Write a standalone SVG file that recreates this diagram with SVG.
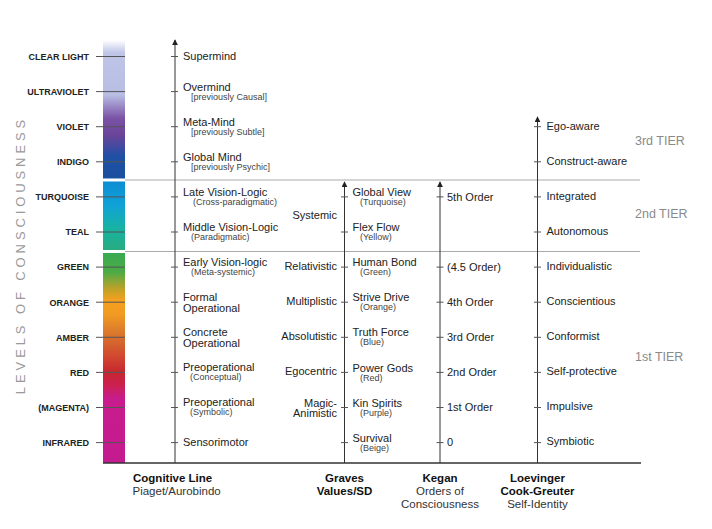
<svg xmlns="http://www.w3.org/2000/svg" width="712" height="529" viewBox="0 0 712 529">
<defs>
<linearGradient id="spec" gradientUnits="userSpaceOnUse" x1="0" y1="40" x2="0" y2="463">
<stop offset="0" stop-color="#ffffff"/>
<stop offset="0.03" stop-color="#bfc5e7"/>
<stop offset="0.13" stop-color="#b8bde3"/>
<stop offset="0.185" stop-color="#7a52a6"/>
<stop offset="0.225" stop-color="#6a449a"/>
<stop offset="0.275" stop-color="#1f50a5"/>
<stop offset="0.326" stop-color="#1a4f9e"/>
<stop offset="0.336" stop-color="#0d8ed3"/>
<stop offset="0.39" stop-color="#10a2d8"/>
<stop offset="0.444" stop-color="#17b3a3"/>
<stop offset="0.496" stop-color="#28ac80"/>
<stop offset="0.504" stop-color="#38aa52"/>
<stop offset="0.549" stop-color="#4dab45"/>
<stop offset="0.586" stop-color="#b8a22a"/>
<stop offset="0.615" stop-color="#f6a11f"/>
<stop offset="0.65" stop-color="#f09a22"/>
<stop offset="0.697" stop-color="#d8742e"/>
<stop offset="0.757" stop-color="#cf4030"/>
<stop offset="0.785" stop-color="#c5282e"/>
<stop offset="0.816" stop-color="#cc2050"/>
<stop offset="0.846" stop-color="#c81c8c"/>
<stop offset="1" stop-color="#c41b90"/>
</linearGradient>
<marker id="arr" viewBox="0 0 8 8" refX="7" refY="4" markerWidth="6" markerHeight="6" markerUnits="userSpaceOnUse" orient="auto">
<path d="M0,0 L8,4 L0,8 Z" fill="#222"/>
</marker>
</defs>
<style>
text{font-family:"Liberation Sans",Arial,sans-serif;}
.lv{font-size:9px;font-weight:bold;fill:#222;text-anchor:end;}
.m{font-size:11px;fill:#222;}
.s{font-size:9px;fill:#444;}
.r{font-size:11px;fill:#222;text-anchor:end;}
.tier{font-size:12.5px;fill:#8a8a8a;}
.hb{font-size:11.5px;font-weight:bold;fill:#111;}
.hn{font-size:11.5px;fill:#333;}
.c{text-anchor:middle;}
.tk{stroke:#555;stroke-width:1;}
.ax{stroke:#333;stroke-width:1;fill:none;}
.tl{stroke:#aaa;stroke-width:1;}
</style>
<rect width="712" height="529" fill="#ffffff"/>

<g id="spectrum">
<rect x="103" y="40" width="22" height="423" fill="url(#spec)"/>
<rect x="103" y="178.5" width="22" height="3" fill="#ffffff"/>
<rect x="103" y="250" width="22" height="3" fill="#ffffff"/>
</g>

<g id="axis-title">
<text transform="translate(25,255) rotate(-90)" text-anchor="middle" font-size="13" fill="#999" letter-spacing="3.9">LEVELS OF CONSCIOUSNESS</text>
</g>

<g id="connectors">
<line class="tl" x1="125" y1="180" x2="640" y2="180"/>
<line class="tl" x1="125" y1="251.5" x2="640" y2="251.5"/>
<line x1="103" y1="463" x2="641" y2="463" stroke="#333" stroke-width="1.6"/>
<line class="ax" x1="175" y1="463" x2="175" y2="40" marker-end="url(#arr)"/>
<line class="ax" x1="344.5" y1="463" x2="344.5" y2="182" marker-end="url(#arr)"/>
<line class="ax" x1="440" y1="463" x2="440" y2="182" marker-end="url(#arr)"/>
<line class="ax" x1="537.5" y1="463" x2="537.5" y2="117" marker-end="url(#arr)"/>
<g id="level-ticks" class="tk">
<line x1="96" y1="56.5" x2="125" y2="56.5"/>
<line x1="96" y1="91.6" x2="125" y2="91.6"/>
<line x1="96" y1="126.7" x2="125" y2="126.7"/>
<line x1="96" y1="161.8" x2="125" y2="161.8"/>
<line x1="96" y1="196.9" x2="125" y2="196.9"/>
<line x1="96" y1="232" x2="125" y2="232"/>
<line x1="96" y1="267.1" x2="125" y2="267.1"/>
<line x1="96" y1="302.2" x2="125" y2="302.2"/>
<line x1="96" y1="337.3" x2="125" y2="337.3"/>
<line x1="96" y1="372.4" x2="125" y2="372.4"/>
<line x1="96" y1="407.5" x2="125" y2="407.5"/>
<line x1="96" y1="442.6" x2="125" y2="442.6"/>
</g>
<g id="cog-ticks" class="tk">
<line x1="171" y1="56.5" x2="178" y2="56.5"/>
<line x1="171" y1="91.6" x2="178" y2="91.6"/>
<line x1="171" y1="126.7" x2="178" y2="126.7"/>
<line x1="171" y1="161.8" x2="178" y2="161.8"/>
<line x1="171" y1="196.9" x2="178" y2="196.9"/>
<line x1="171" y1="232" x2="178" y2="232"/>
<line x1="171" y1="267.1" x2="178" y2="267.1"/>
<line x1="171" y1="302.2" x2="178" y2="302.2"/>
<line x1="171" y1="337.3" x2="178" y2="337.3"/>
<line x1="171" y1="372.4" x2="178" y2="372.4"/>
<line x1="171" y1="407.5" x2="178" y2="407.5"/>
<line x1="171" y1="442.6" x2="178" y2="442.6"/>
</g>
<g id="graves-ticks" class="tk">
<line x1="341" y1="196.9" x2="348" y2="196.9"/>
<line x1="341" y1="232" x2="348" y2="232"/>
<line x1="341" y1="267.1" x2="348" y2="267.1"/>
<line x1="341" y1="302.2" x2="348" y2="302.2"/>
<line x1="341" y1="337.3" x2="348" y2="337.3"/>
<line x1="341" y1="372.4" x2="348" y2="372.4"/>
<line x1="341" y1="407.5" x2="348" y2="407.5"/>
<line x1="341" y1="442.6" x2="348" y2="442.6"/>
</g>
<g id="kegan-ticks" class="tk">
<line x1="436.5" y1="196.9" x2="443.5" y2="196.9"/>
<line x1="436.5" y1="267.1" x2="443.5" y2="267.1"/>
<line x1="436.5" y1="302.2" x2="443.5" y2="302.2"/>
<line x1="436.5" y1="337.3" x2="443.5" y2="337.3"/>
<line x1="436.5" y1="372.4" x2="443.5" y2="372.4"/>
<line x1="436.5" y1="407.5" x2="443.5" y2="407.5"/>
<line x1="436.5" y1="442.6" x2="443.5" y2="442.6"/>
</g>
<g id="loev-ticks" class="tk">
<line x1="534" y1="126.7" x2="541" y2="126.7"/>
<line x1="534" y1="161.8" x2="541" y2="161.8"/>
<line x1="534" y1="196.9" x2="541" y2="196.9"/>
<line x1="534" y1="232" x2="541" y2="232"/>
<line x1="534" y1="267.1" x2="541" y2="267.1"/>
<line x1="534" y1="302.2" x2="541" y2="302.2"/>
<line x1="534" y1="337.3" x2="541" y2="337.3"/>
<line x1="534" y1="372.4" x2="541" y2="372.4"/>
<line x1="534" y1="407.5" x2="541" y2="407.5"/>
<line x1="534" y1="442.6" x2="541" y2="442.6"/>
</g>
</g>

<g id="level-labels">
<text class="lv" x="89" y="59.8">CLEAR LIGHT</text>
<text class="lv" x="89" y="94.9">ULTRAVIOLET</text>
<text class="lv" x="89" y="130">VIOLET</text>
<text class="lv" x="89" y="165.1">INDIGO</text>
<text class="lv" x="89" y="200.2">TURQUOISE</text>
<text class="lv" x="89" y="235.3">TEAL</text>
<text class="lv" x="89" y="270.4">GREEN</text>
<text class="lv" x="89" y="305.5">ORANGE</text>
<text class="lv" x="89" y="340.6">AMBER</text>
<text class="lv" x="89" y="375.7">RED</text>
<text class="lv" x="89" y="410.8">(MAGENTA)</text>
<text class="lv" x="89" y="445.9">INFRARED</text>
</g>

<g id="cognitive">
<g id="cog-supermind"><text class="m" x="183" y="60">Supermind</text></g>
<g id="cog-overmind"><text class="m" x="183" y="90.5">Overmind</text><text class="s" x="191" y="99.8">[previously Causal]</text></g>
<g id="cog-metamind"><text class="m" x="183" y="125.6">Meta-Mind</text><text class="s" x="191" y="134.9">[previously Subtle]</text></g>
<g id="cog-globalmind"><text class="m" x="183" y="160.7">Global Mind</text><text class="s" x="191" y="170">[previously Psychic]</text></g>
<g id="cog-late"><text class="m" x="183" y="195.8">Late Vision-Logic</text><text class="s" x="193" y="205.1">(Cross-paradigmatic)</text></g>
<g id="cog-middle"><text class="m" x="183" y="230.9">Middle Vision-Logic</text><text class="s" x="191" y="240.2">(Paradigmatic)</text></g>
<g id="cog-early"><text class="m" x="183" y="266">Early Vision-logic</text><text class="s" x="191" y="274.6">(Meta-systemic)</text></g>
<g id="cog-formal"><text class="m" x="183" y="300.8">Formal</text><text class="m" x="183" y="312">Operational</text></g>
<g id="cog-concrete"><text class="m" x="183" y="335.8">Concrete</text><text class="m" x="183" y="347">Operational</text></g>
<g id="cog-preop1"><text class="m" x="183" y="370.6">Preoperational</text><text class="s" x="190" y="379.9">(Conceptual)</text></g>
<g id="cog-preop2"><text class="m" x="183" y="405.7">Preoperational</text><text class="s" x="190" y="415">(Symbolic)</text></g>
<g id="cog-sensori"><text class="m" x="183" y="446">Sensorimotor</text></g>
</g>

<g id="graves-left">
<text class="r" x="337" y="218.5">Systemic</text>
<text class="r" x="337" y="270">Relativistic</text>
<text class="r" x="337" y="305">Multiplistic</text>
<text class="r" x="337" y="340">Absolutistic</text>
<text class="r" x="337" y="375">Egocentric</text>
<text class="r" x="337" y="406.5">Magic-</text>
<text class="r" x="337" y="417">Animistic</text>
</g>

<g id="graves">
<g id="gr-globalview"><text class="m" x="352.5" y="196">Global View</text><text class="s" x="360" y="205">(Turquoise)</text></g>
<g id="gr-flexflow"><text class="m" x="352.5" y="231.1">Flex Flow</text><text class="s" x="360" y="240.1">(Yellow)</text></g>
<g id="gr-humanbond"><text class="m" x="352.5" y="266.2">Human Bond</text><text class="s" x="360" y="275.2">(Green)</text></g>
<g id="gr-strivedrive"><text class="m" x="352.5" y="301.3">Strive Drive</text><text class="s" x="360" y="310.3">(Orange)</text></g>
<g id="gr-truthforce"><text class="m" x="352.5" y="336.4">Truth Force</text><text class="s" x="360" y="345.4">(Blue)</text></g>
<g id="gr-powergods"><text class="m" x="352.5" y="371.5">Power Gods</text><text class="s" x="360" y="380.5">(Red)</text></g>
<g id="gr-kinspirits"><text class="m" x="352.5" y="406.6">Kin Spirits</text><text class="s" x="360" y="415.6">(Purple)</text></g>
<g id="gr-survival"><text class="m" x="352.5" y="441.7">Survival</text><text class="s" x="360" y="450.7">(Beige)</text></g>
</g>

<g id="kegan">
<g id="kg-5"><text class="m" x="447" y="200.5">5th Order</text></g>
<g id="kg-45"><text class="m" x="447" y="270.7">(4.5 Order)</text></g>
<g id="kg-4"><text class="m" x="447" y="305.8">4th Order</text></g>
<g id="kg-3"><text class="m" x="447" y="340.9">3rd Order</text></g>
<g id="kg-2"><text class="m" x="447" y="376">2nd Order</text></g>
<g id="kg-1"><text class="m" x="447" y="411.1">1st Order</text></g>
<g id="kg-0"><text class="m" x="447" y="446.2">0</text></g>
</g>

<g id="loevinger">
<g id="lv-egoaware"><text class="m" x="546.5" y="129.5">Ego-aware</text></g>
<g id="lv-construct"><text class="m" x="546.5" y="164.6">Construct-aware</text></g>
<g id="lv-integrated"><text class="m" x="546.5" y="199.7">Integrated</text></g>
<g id="lv-autonomous"><text class="m" x="546.5" y="234.8">Autonomous</text></g>
<g id="lv-individualistic"><text class="m" x="546.5" y="269.9">Individualistic</text></g>
<g id="lv-conscientious"><text class="m" x="546.5" y="305">Conscientious</text></g>
<g id="lv-conformist"><text class="m" x="546.5" y="340.1">Conformist</text></g>
<g id="lv-selfprotective"><text class="m" x="546.5" y="375.2">Self-protective</text></g>
<g id="lv-impulsive"><text class="m" x="546.5" y="410.3">Impulsive</text></g>
<g id="lv-symbiotic"><text class="m" x="546.5" y="445.4">Symbiotic</text></g>
</g>

<g id="tiers">
<text class="tier" x="635" y="144.5">3rd TIER</text>
<text class="tier" x="635" y="217.5">2nd TIER</text>
<text class="tier" x="635" y="360.5">1st TIER</text>
</g>

<g id="column-heads">
<g id="head-cognitive"><text class="hb" x="133" y="481.5">Cognitive Line</text><text class="hn" x="132.5" y="495">Piaget/Aurobindo</text></g>
<g id="head-graves"><text class="hb c" x="344.5" y="481.5">Graves</text><text class="hb c" x="344.5" y="495">Values/SD</text></g>
<g id="head-kegan"><text class="hb c" x="440" y="481.5">Kegan</text><text class="hn c" x="440" y="495">Orders of</text><text class="hn c" x="440" y="507.5">Consciousness</text></g>
<g id="head-loevinger"><text class="hb c" x="537.5" y="481.5">Loevinger</text><text class="hb c" x="537.5" y="495">Cook-Greuter</text><text class="hn c" x="537.5" y="507.5">Self-Identity</text></g>
</g>
</svg>
